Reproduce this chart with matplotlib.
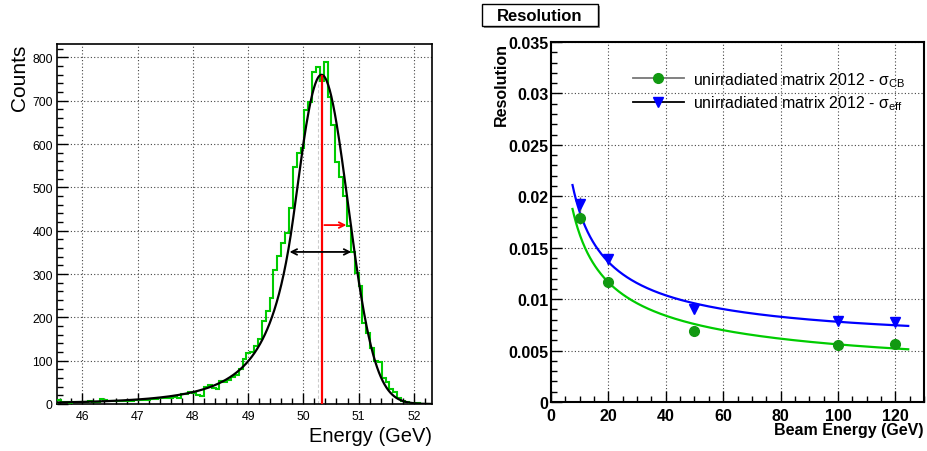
import numpy as np
import matplotlib
matplotlib.use("Agg")
from matplotlib import pyplot as plt
from matplotlib.lines import Line2D
from matplotlib.patches import Rectangle
from matplotlib.ticker import MultipleLocator

plt.rcParams['font.family'] = ['Liberation Sans', 'DejaVu Sans']
plt.rcParams['mathtext.fontset'] = 'custom'
plt.rcParams['mathtext.rm'] = 'Liberation Sans'
plt.rcParams['mathtext.it'] = 'Liberation Sans:italic'

# ---- left panel: energy spectrum of one beam run ----
bin_start = 45.54
bin_width = 0.07
counts = [9, 5, 4, 3, 5, 4, 5, 4, 6, 5,
          5, 12, 10, 6, 7, 6, 8, 7, 7, 8,
          9, 9, 10, 9, 11, 12, 13, 14, 15, 14,
          17, 15, 22, 23, 28, 26, 20, 19, 40, 44,
          38, 35, 52, 50, 55, 63, 68, 80, 104, 118,
          121, 135, 149, 192, 215, 245, 310, 341, 372, 395,
          452, 548, 580, 590, 678, 697, 766, 778, 745, 790,
          709, 645, 559, 525, 479, 410, 352, 303, 272, 188,
          165, 130, 100, 96, 61, 50, 34, 27, 15, 8,
          5, 3, 2, 2, 1, 1, 1]

# crystal ball fit parameters
cb_norm = 760.0
cb_mean = 50.33
cb_sigma = 0.48
cb_alpha = 1.05
cb_n = 4.0

sigma_eff_lo = 49.70
sigma_eff_hi = 50.92
sigma_eff_level = 351
sigma_cb_end = 50.83
sigma_cb_level = 413
median_pos = 50.26

# ---- right panel: resolution vs beam energy ----
beam_energy = [10, 20, 50, 100, 120]
res_cb = [0.01786, 0.01169, 0.00688, 0.00555, 0.00562]
res_cb_err = [0.0006, 0.0005, 0.0002, 0.0001, 0.0001]
res_eff = [0.01925, 0.0139, 0.00903, 0.00789, 0.00779]
res_eff_err = [0.0007, 0.0006, 0.0002, 0.0001, 0.0001]
fit_range = (7.5, 124.5)
cb_stoch, cb_const = 0.0510, 0.00232
eff_stoch, eff_const = 0.0558, 0.00545


def crystal_ball(x):
    t = (x - cb_mean) / cb_sigma
    a = (cb_n / cb_alpha) ** cb_n * np.exp(-cb_alpha ** 2 / 2)
    b = cb_n / cb_alpha - cb_alpha
    tail = a / np.abs(b - t) ** cb_n
    return cb_norm * np.where(t > -cb_alpha, np.exp(-t ** 2 / 2), tail)


def res_curve(e, s, c):
    return np.sqrt(s ** 2 / e + c ** 2)


W, H = 927, 452
fig = plt.figure(figsize=(W / 100, H / 100), dpi=100)


def fx(px):
    return px / W


def fy(py):
    return 1 - py / H


grid_kw = dict(color='#444444', linestyle=(0, (1, 2)), linewidth=0.8)

# left axes
ax1 = fig.add_axes([fx(57), fy(405), fx(432 - 57), (405 - 45) / H])
edges = bin_start + bin_width * np.arange(len(counts) + 1)
ax1.stairs(counts, edges, color='#00cc00', linewidth=1.5, zorder=3)
xx = np.linspace(edges[0], edges[-1], 800)
ax1.plot(xx, crystal_ball(xx), color='black', linewidth=1.6, zorder=4)
ax1.vlines(median_pos, 0, cb_norm, colors='#cccccc', linestyles=(0, (3, 2)), linewidth=0.8, zorder=2)
ax1.vlines(cb_mean, 0, cb_norm, colors='red', linewidth=1.6, zorder=5)
ax1.annotate('', xy=(sigma_cb_end, sigma_cb_level), xytext=(cb_mean, sigma_cb_level),
             arrowprops=dict(arrowstyle='->', color='red', lw=1.3), zorder=6)
ax1.annotate('', xy=(sigma_eff_hi, sigma_eff_level), xytext=(sigma_eff_lo, sigma_eff_level),
             arrowprops=dict(arrowstyle='<->', color='black', lw=1.3), zorder=6)
ax1.set_xlim(edges[0], edges[-1])
ax1.set_ylim(0, 831)
ax1.xaxis.set_major_locator(MultipleLocator(1))
ax1.xaxis.set_minor_locator(MultipleLocator(0.2))
ax1.yaxis.set_major_locator(MultipleLocator(100))
ax1.yaxis.set_minor_locator(MultipleLocator(20))
ax1.tick_params(which='both', direction='in', top=False, right=False, labelsize=8.8, colors='black')
ax1.tick_params(which='major', length=8, width=1.0)
ax1.tick_params(which='minor', length=4.3, width=1.0)
ax1.tick_params(axis='y', pad=3)
ax1.tick_params(axis='x', pad=4)
ax1.grid(True, which='major', **grid_kw)
for sp in ax1.spines.values():
    sp.set_linewidth(1.2)
fig.text(fx(19), fy(45), 'Counts', rotation=90, ha='center', va='top', fontsize=15)
fig.text(fx(432), fy(437), 'Energy (GeV)', ha='right', va='center', fontsize=14.5)

# right axes
ax2 = fig.add_axes([fx(551), fy(403), fx(924 - 551), (403 - 43) / H])
ee = np.linspace(fit_range[0], fit_range[1], 400)
ax2.plot(ee, res_curve(ee, cb_stoch, cb_const), color='#00cc00', linewidth=1.6, zorder=3)
ax2.plot(ee, res_curve(ee, eff_stoch, eff_const), color='#0000ff', linewidth=1.6, zorder=3)
ax2.errorbar(beam_energy, res_cb, yerr=res_cb_err, fmt='o', color='#119911', ecolor='#555555',
             elinewidth=1.0, markersize=7, zorder=4)
ax2.errorbar(beam_energy, res_eff, yerr=res_eff_err, fmt='v', color='#0000ff', ecolor='#555555',
             elinewidth=1.0, markersize=7.5, zorder=4)
ax2.set_xlim(0, 130)
ax2.set_ylim(0, 0.035)
ax2.xaxis.set_major_locator(MultipleLocator(20))
ax2.xaxis.set_minor_locator(MultipleLocator(5))
ax2.yaxis.set_major_locator(MultipleLocator(0.005))
ax2.yaxis.set_minor_locator(MultipleLocator(0.001))
ax2.set_yticks([0, 0.005, 0.01, 0.015, 0.02, 0.025, 0.03, 0.035])
ax2.set_yticklabels(['0', '0.005', '0.01', '0.015', '0.02', '0.025', '0.03', '0.035'])
ax2.tick_params(which='both', direction='in', top=False, right=False, labelsize=11.5, colors='black')
ax2.tick_params(which='major', length=8, width=1.0)
ax2.tick_params(which='minor', length=4, width=1.0)
ax2.tick_params(axis='y', pad=2)
ax2.tick_params(axis='x', pad=4)
for lab in ax2.get_xticklabels() + ax2.get_yticklabels():
    lab.set_fontweight('bold')
ax2.grid(True, which='major', **grid_kw)
for sp in ax2.spines.values():
    sp.set_linewidth(1.5)

handles = [Line2D([], [], color='#777777', lw=1.3, marker='o', mfc='#119911', mec='#119911', ms=7),
           Line2D([], [], color='black', lw=1.3, marker='v', mfc='#0000ff', mec='#0000ff', ms=7.5)]
labels = [r'unirradiated matrix 2012 - σ$_{\mathrm{CB}}$',
          r'unirradiated matrix 2012 - σ$_{\mathrm{eff}}$']
ax2.legend(handles, labels, loc='upper left', bbox_to_anchor=((633 - 551) / 373, (403 - 71) / 360),
           frameon=False, fontsize=11.4, handlelength=3.2, handletextpad=0.6, labelspacing=0.3,
           borderpad=0, borderaxespad=0)

fig.text(fx(501), fy(43), 'Resolution', rotation=90, ha='center', va='top', fontsize=11.5, fontweight='bold')
fig.text(fx(924), fy(431), 'Beam Energy (GeV)', ha='right', va='center', fontsize=11.5, fontweight='bold')

# title box with shadow
fig.patches.append(Rectangle((fx(484), fy(29)), fx(116), 22 / H, transform=fig.transFigure,
                             facecolor='#888888', edgecolor='none'))
fig.patches.append(Rectangle((fx(482), fy(27)), fx(116), 22 / H, transform=fig.transFigure,
                             facecolor='white', edgecolor='black', linewidth=1.0))
fig.text(fx(540), fy(16.5), 'Resolution', ha='center', va='center', fontsize=12, fontweight='bold')

fig.savefig('out.png', dpi=100)
